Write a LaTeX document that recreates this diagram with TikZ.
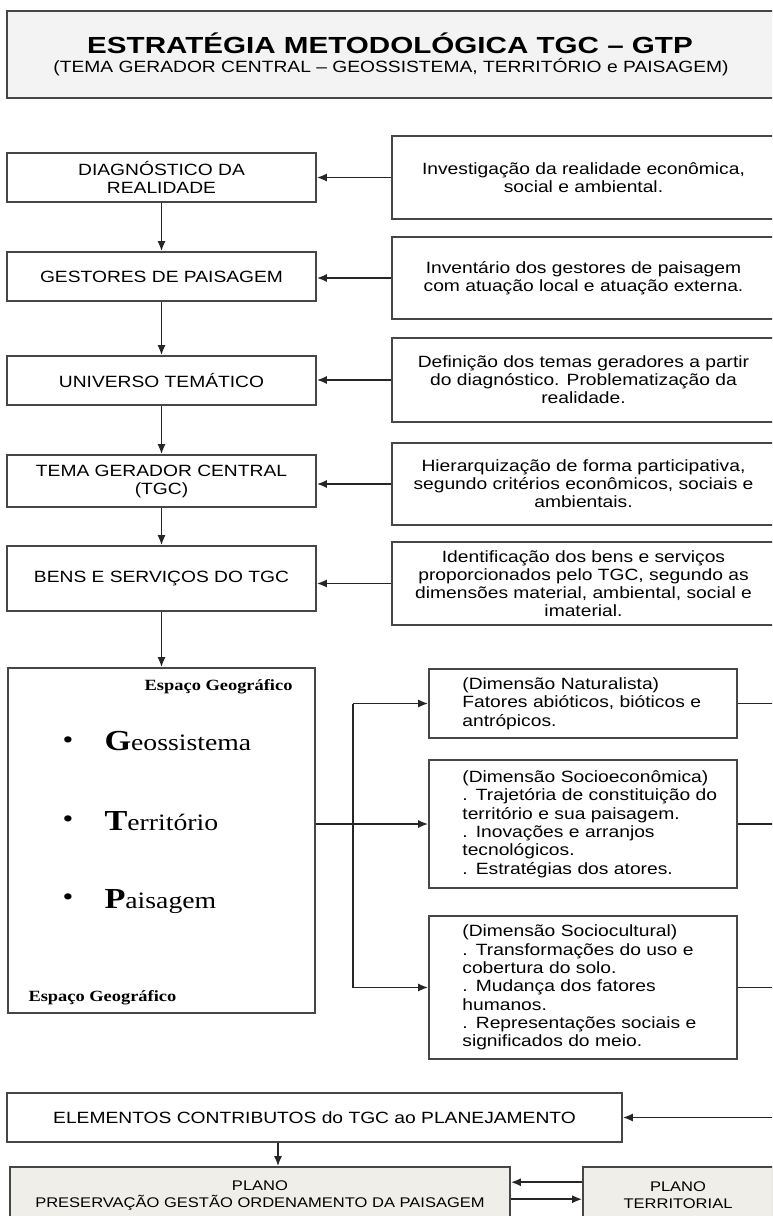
\documentclass[tikz,border=0pt]{standalone}
\usepackage{fontspec}
\setmainfont{Liberation Sans}[FakeStretch=1.18]
\newfontfamily\titlefont{Liberation Sans}[FakeStretch=1.27]
\newfontfamily\geofont{Liberation Serif}[FakeStretch=1.18]
\usetikzlibrary{arrows.meta,positioning}
\definecolor{headfill}{RGB}{243,243,243}
\definecolor{planfill}{RGB}{239,238,232}
\definecolor{linegray}{RGB}{70,70,70}

\begin{document}
\begin{tikzpicture}[x=1pt,y=-1pt,
  box/.style={draw=linegray,line width=1.6pt,align=center,inner sep=0pt,font=\fontsize{16.3}{18}\selectfont},
  dimtext/.style={align=left,inner sep=0pt,text width=266pt,font=\fontsize{16.3}{18.3}\selectfont},
  conn/.style={draw=black!85,line width=1.7pt},
  arr/.style={conn,-{Latex[length=10pt,width=8pt]}}]
  \useasboundingbox (0,0) rectangle (772,1216);
  \clip (0,0) rectangle (772,1216);
  % title
  \node[draw=linegray,fill=headfill,line width=1.8pt,minimum width=783,minimum height=87] (head) at (398.5,54.5) {};
  \node[anchor=base,font=\titlefont\bfseries\fontsize{23.3}{26}\selectfont] (title) at (390,53) {ESTRATÉGIA METODOLÓGICA TGC – GTP};
  \node[anchor=base,font=\fontsize{16.3}{18}\selectfont] (subtitle) at (391,72) {(TEMA GERADOR CENTRAL – GEOSSISTEMA, TERRITÓRIO e PAISAGEM)};
  % left column
  \foreach \n/\cy/\h/\txt in {
    diag/177.5/49/{DIAGNÓSTICO DA\\REALIDADE},
    gest/276.5/49/{GESTORES DE PAISAGEM},
    univ/380.5/49/{UNIVERSO TEMÁTICO},
    tema/481/52/{TEMA GERADOR CENTRAL\\(TGC)},
    bens/578.5/65/{BENS E SERVIÇOS DO TGC}}{
    \node[box,minimum width=309,minimum height=\h] (\n) at (161.5,\cy) {\txt};
  }
  % right column
  \foreach \n/\cy/\h/\txt in {
    d1/177.5/83/{Investigação da realidade econômica,\\social e ambiental.},
    d2/278/82/{Inventário dos gestores de paisagem\\com atuação local e atuação externa.},
    d3/380/84/{Definição dos temas geradores a partir\\do diagnóstico. Problematização da\\realidade.},
    d4/484/82/{Hierarquização de forma participativa,\\segundo critérios econômicos, sociais e\\ambientais.},
    d5/583.5/83/{Identificação dos bens e serviços\\proporcionados pelo TGC, segundo as\\dimensões material, ambiental, social e\\imaterial.}}{
    \node[box,minimum width=383,minimum height=\h] (\n) at (583.5,\cy) {\txt};
  }
  \foreach \a/\b in {d1/diag,d2/gest,d3/univ,d4/tema,d5/bens}{
    \draw[arr] (\a.west) -- (\a.west -| \b.east);
  }
  \draw[arr] (diag.south) -- (gest.north);
  \draw[arr] (gest.south) -- (univ.north);
  \draw[arr] (univ.south) -- (tema.north);
  \draw[arr] (tema.south) -- (bens.north);
  % espaco geografico
  \node[draw=linegray,line width=1.6pt,minimum width=307,minimum height=345] (geo) at (161.5,840.5) {};
  \draw[arr] (bens.south) -- (geo.north);
  \node[anchor=east,font=\geofont\bfseries\fontsize{15.6}{17}\selectfont] (eg1) at (296,687) {Espaço Geográfico};
  \node[anchor=west,font=\geofont\bfseries\fontsize{15.6}{17}\selectfont] (eg2) at (25,998) {Espaço Geográfico};
  \foreach \n/\cy/\by/\l/\rest in {wgeo/743/750/G/eossistema,wter/822/830/T/erritório,wpai/900/908/P/aisagem}{
    \node[font=\geofont\fontsize{26}{28}\selectfont] (b\n) at (68,\cy) {•};
    \node[anchor=base west,font=\geofont\fontsize{23.5}{28}\selectfont] (\n) at (101,\by) {{\bfseries\fontsize{29}{30}\selectfont\l}\rest};
  }
  % dimensoes
  \foreach \n/\cy/\h/\txt in {
    dn1/703.5/69/{(Dimensão Naturalista)\\Fatores abióticos, bióticos e\\antrópicos.},
    dn2/824/128/{(Dimensão Socioeconômica)\\. Trajetória de constituição do\\território e sua paisagem.\\. Inovações e arranjos\\tecnológicos.\\. Estratégias dos atores.},
    dn3/987.5/143/{(Dimensão Sociocultural)\\. Transformações do uso e\\cobertura do solo.\\. Mudança dos fatores\\humanos.\\. Representações sociais e\\significados do meio.}}{
    \node[box,minimum width=308,minimum height=\h] (\n) at (583,\cy) {};
    \node[dimtext,anchor=west] (\n-t) at ([xshift=34pt]\n.west) {\txt};
  }
  \coordinate (split) at (353,824);
  \draw[conn] (geo.east |- split) -- (split);
  \draw[conn] (split |- dn1.west) -- (split |- dn3.west);
  \foreach \d in {dn1,dn2,dn3}{
    \draw[arr] (split |- \d.west) -- (\d.west);
  }
  % planejamento
  \node[box,minimum width=615,minimum height=49] (elem) at (314.5,1117.5) {ELEMENTOS CONTRIBUTOS do TGC ao PLANEJAMENTO};
  \coordinate (rin) at (780,1117.5);
  \foreach \d in {dn1,dn2,dn3}{
    \draw[conn] (\d.east) -- (\d.east -| rin);
  }
  \draw[arr] (rin) -- (elem.east);
  \node[box,fill=planfill,minimum width=500,minimum height=57,font=\fontsize{14}{17}\selectfont] (plano) at (260,1195.5) {PLANO\\PRESERVAÇÃO GESTÃO ORDENAMENTO DA PAISAGEM};
  \node[box,fill=planfill,minimum width=190,minimum height=57,font=\fontsize{14}{17}\selectfont] (pterr) at (678,1195.5) {PLANO\\TERRITORIAL};
  \draw[arr] (elem.south -| 278,0) -- (plano.north -| 278,0);
  \draw[arr] ([yshift=-16pt]pterr.north west) -- ([yshift=-16pt]plano.north east);
  \draw[arr] ([yshift=-33pt]plano.north east) -- ([yshift=-33pt]pterr.north west);
\end{tikzpicture}
\end{document}
